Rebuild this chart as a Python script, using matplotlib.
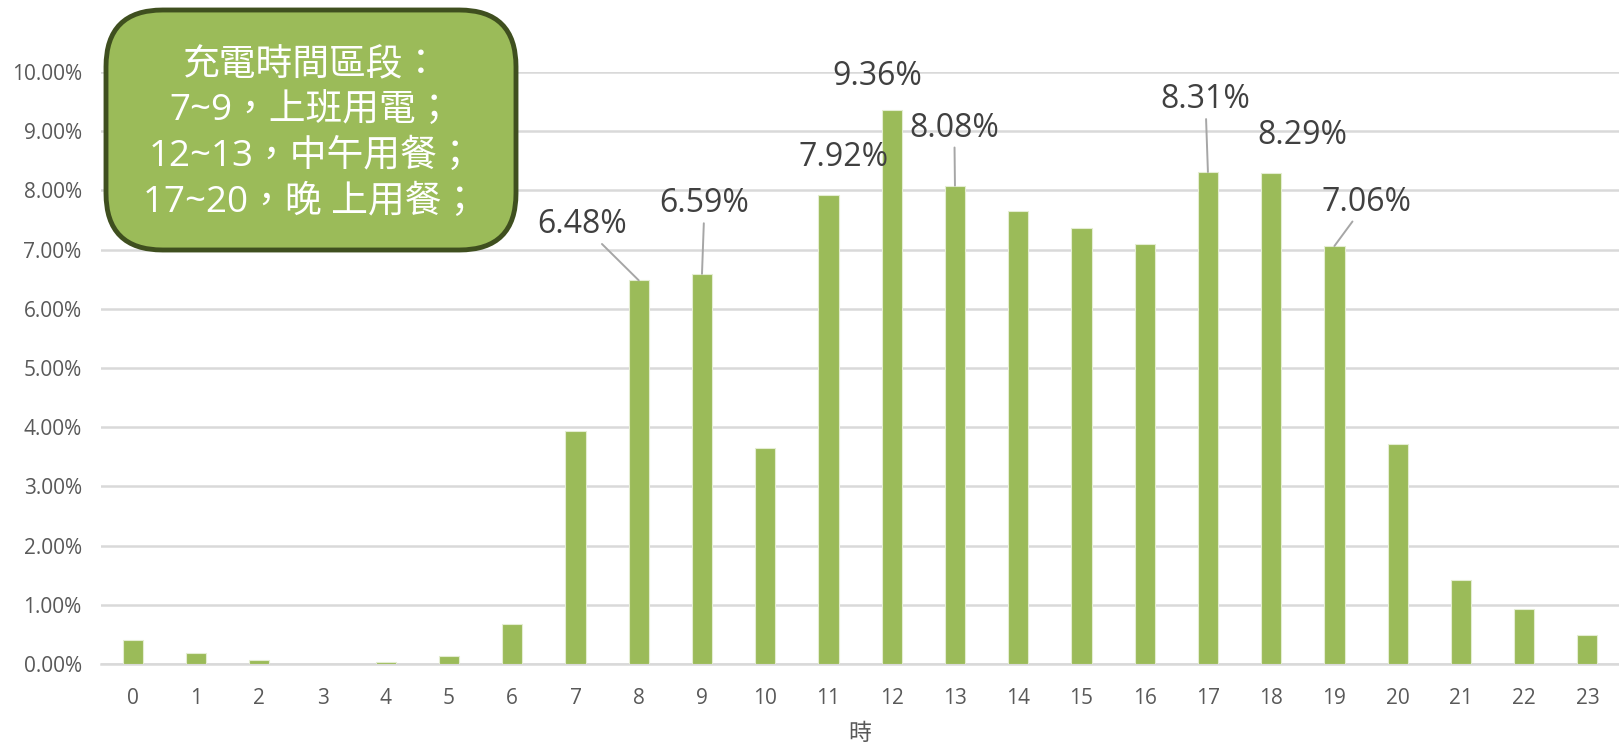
import matplotlib
matplotlib.use("Agg")
from matplotlib import pyplot as plt
from matplotlib.patches import FancyBboxPatch
from matplotlib.ticker import FuncFormatter

plt.rcParams['font.family'] = ['Open Sans', 'Noto Sans CJK TC', 'DejaVu Sans']

# share of charging sessions per hour of day (%)
hours = list(range(24))
share = [0.41, 0.18, 0.07, 0.0, 0.03, 0.14, 0.68, 3.93, 6.48, 6.59, 3.65, 7.92,
         9.36, 8.08, 7.66, 7.36, 7.10, 8.31, 8.29, 7.06, 3.72, 1.41, 0.92, 0.49]

# hours that get a value label, where the label sits, and whether a leader line is drawn
label_hours = [8, 9, 11, 12, 13, 17, 18, 19]
label_pos = [(7.11, 7.42), (9.04, 7.77), (11.24, 8.55), (11.78, 9.93),
             (12.99, 9.05), (16.96, 9.53), (18.50, 8.92), (19.51, 7.80)]
leader = [True, True, False, False, True, True, False, True]

note_lines = ["充電時間區段：", "7~9，上班用電；", "12~13，中午用餐；", "17~20，晚 上用餐；"]

bar_color = '#9BBB59'

fig = plt.figure(figsize=(16.19, 7.46), dpi=100)
ax = fig.add_axes([0.0625, 0.110, 0.9375, 0.7935])

ax.bar(hours, share, width=0.32, color=bar_color, edgecolor='#E4EDD2', linewidth=0.8, zorder=3)

ax.set_xlim(-0.5, 23.5)
ax.set_ylim(0, 10)
ax.set_yticks([i for i in range(11)])
ax.yaxis.set_major_formatter(FuncFormatter(lambda v, _: f"{v:.2f}%"))
ax.set_xticks(hours)
ax.grid(axis='y', color='#D9D9D9', linewidth=1.8, zorder=0)
ax.set_axisbelow(True)
for s in ['top', 'right', 'left']:
    ax.spines[s].set_visible(False)
ax.spines['bottom'].set_color('#D9D9D9')
ax.spines['bottom'].set_linewidth(1.8)
ax.tick_params(axis='both', length=0, labelsize=15, labelcolor='#595959')
ax.tick_params(axis='x', pad=17)
ax.tick_params(axis='y', pad=14)
ax.set_xlabel('時', fontsize=16.5, color='#595959', va='center',
              family=['Noto Sans CJK TC'])
ax.xaxis.set_label_coords(0.5, -0.117)

for h, (tx, ty), ln in zip(label_hours, label_pos, leader):
    v = share[h]
    if ln:
        ax.annotate(f"{v:.2f}%", xy=(h, v), xytext=(tx, ty), ha='center', va='center',
                    fontsize=23, color='#404040', annotation_clip=False,
                    arrowprops=dict(arrowstyle='-', color='#A6A6A6', lw=1.4,
                                    shrinkA=0, shrinkB=0))
    else:
        ax.text(tx, ty, f"{v:.2f}%", ha='center', va='center', fontsize=23,
                color='#404040', clip_on=False)

# rounded note box in the upper left
box = FancyBboxPatch((106 / 1619, 1 - 250 / 746), 410 / 1619, 240 / 746,
                     boxstyle="round,pad=0,rounding_size=0.035",
                     transform=fig.transFigure, facecolor=bar_color,
                     edgecolor='#3F4F1F', linewidth=3.5, zorder=10,
                     mutation_aspect=1619 / 746)
fig.patches.append(box)
for i, line in enumerate(note_lines):
    fig.text(311 / 1619, 1 - (66 + 45.5 * i) / 746, line, ha='center', va='center',
             fontsize=26.5, color='white', zorder=11,
             family=['Open Sans', 'Noto Sans CJK TC'])

fig.savefig('out.png', dpi=100)
